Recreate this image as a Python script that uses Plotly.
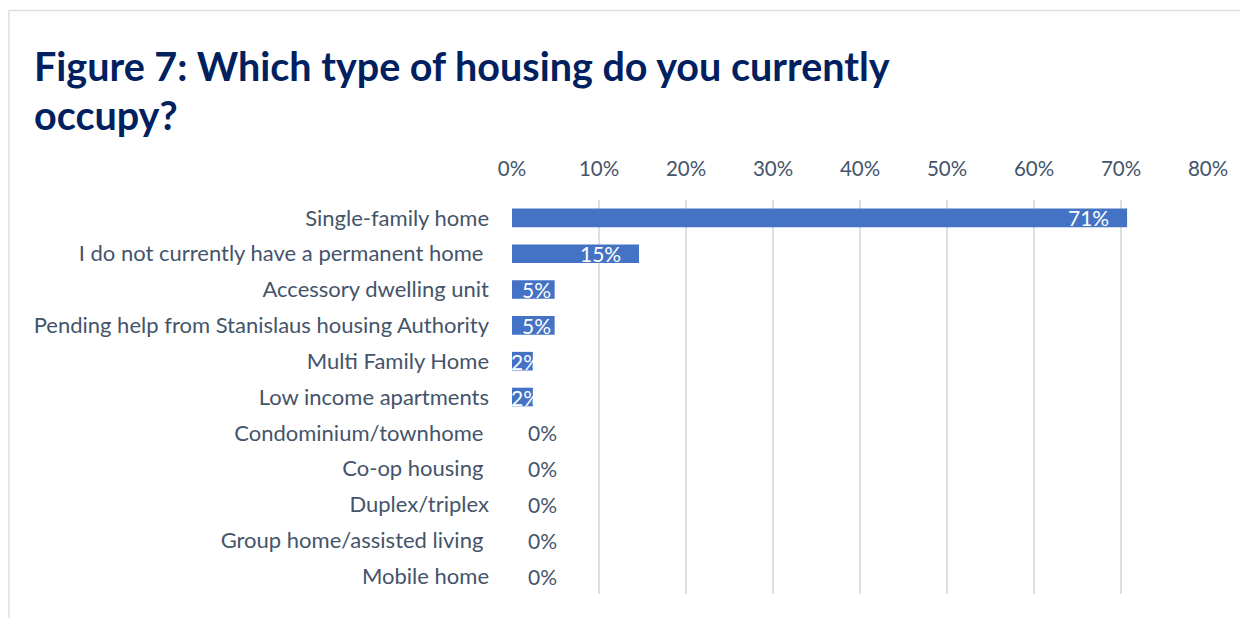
import plotly.graph_objects as go

categories = [
    "Single-family home",
    "I do not currently have a permanent home\u00a0",
    "Accessory dwelling unit",
    "Pending help from Stanislaus housing Authority",
    "Multi Family Home",
    "Low income apartments",
    "Condominium/townhome\u00a0",
    "Co-op housing\u00a0",
    "Duplex/triplex",
    "Group home/assisted living\u00a0",
    "Mobile home",
]
values = [70.7, 14.6, 4.9, 4.9, 2.4, 2.4, 0, 0, 0, 0, 0]
value_labels = ["71%", "15%", "5%", "5%", "2%", "2%", "0%", "0%", "0%", "0%", "0%"]
tick_vals = [0, 10, 20, 30, 40, 50, 60, 70, 80]
tick_text = ["0%", "10%", "20%", "30%", "40%", "50%", "60%", "70%", "80%"]
title_line1 = "Figure 7: Which type of housing do you currently"
title_line2 = "occupy?"

FONT = "Lato"
TXT = "#44546A"
OFF = 8  # page body margin
PAGE_W, PAGE_H = 1248, 618
W, H = PAGE_W - OFF, PAGE_H - OFF
# plot area in page pixel coordinates
PX0, PX1, PY0, PY1 = 512, 1208, 200, 594
L = PX0 - OFF
R = W - (PX1 - OFF)
T = PY0 - OFF
B = H - (PY1 - OFF)
pw, ph = PX1 - PX0, PY1 - PY0

def px_x(p):
    return (p - PX0) / pw

def px_y(p):
    return (PY1 - p) / ph

fig = go.Figure()
fig.add_trace(go.Bar(
    y=categories, x=values, orientation="h",
    marker=dict(color="#4472C4", line=dict(width=0)),
    width=0.52, hoverinfo="skip",
))

LBL = 21
annotations = []
for c, v, lab in zip(categories, values, value_labels):
    if v >= 10:
        annotations.append(dict(x=v, y=c, xref="x", yref="y", text=lab, showarrow=False,
                                xanchor="right", xshift=-16,
                                font=dict(family=FONT, size=LBL, color="white")))
    elif v > 0:
        annotations.append(dict(x=v / 2, y=c, xref="x", yref="y", text=lab, showarrow=False,
                                xanchor="center", xshift=3,
                                font=dict(family=FONT, size=LBL, color="white")))
    else:
        annotations.append(dict(x=0, y=c, xref="x", yref="y", text=lab, showarrow=False,
                                xanchor="left", xshift=14,
                                font=dict(family=FONT, size=LBL, color=TXT)))

for txt, top in [(title_line1, 40), (title_line2, 89)]:
    annotations.append(dict(x=px_x(32), y=px_y(top), xref="paper", yref="paper",
                            text=txt, showarrow=False, xanchor="left", yanchor="top",
                            align="left",
                            font=dict(family=FONT, size=39.5, color="#002060", weight="bold")))

fig.update_layout(
    width=W, height=H,
    margin=dict(l=L, r=R, t=T, b=B, autoexpand=False),
    paper_bgcolor="white", plot_bgcolor="white",
    showlegend=False,
    annotations=annotations,
    xaxis=dict(side="top", range=[0, 80], tickvals=tick_vals, ticktext=tick_text,
               showgrid=True, gridcolor="#DCE0E6", gridwidth=1.5,
               zeroline=False, showline=False, ticks="",
               ticklabelstandoff=19,
               tickfont=dict(family=FONT, size=20.5, color=TXT), fixedrange=True),
    yaxis=dict(autorange="reversed", showgrid=False, zeroline=False, showline=False,
               ticks="", ticklabelstandoff=22,
               tickfont=dict(family=FONT, size=22, color=TXT), fixedrange=True),
    shapes=[dict(type="rect", xref="paper", yref="paper",
                 x0=px_x(9), x1=px_x(1262), y0=px_y(640), y1=px_y(10.5),
                 line=dict(color="#DCE0E6", width=1.5), fillcolor="rgba(0,0,0,0)", layer="below")],
)

fig.write_html("out.html", config={"displayModeBar": False})
